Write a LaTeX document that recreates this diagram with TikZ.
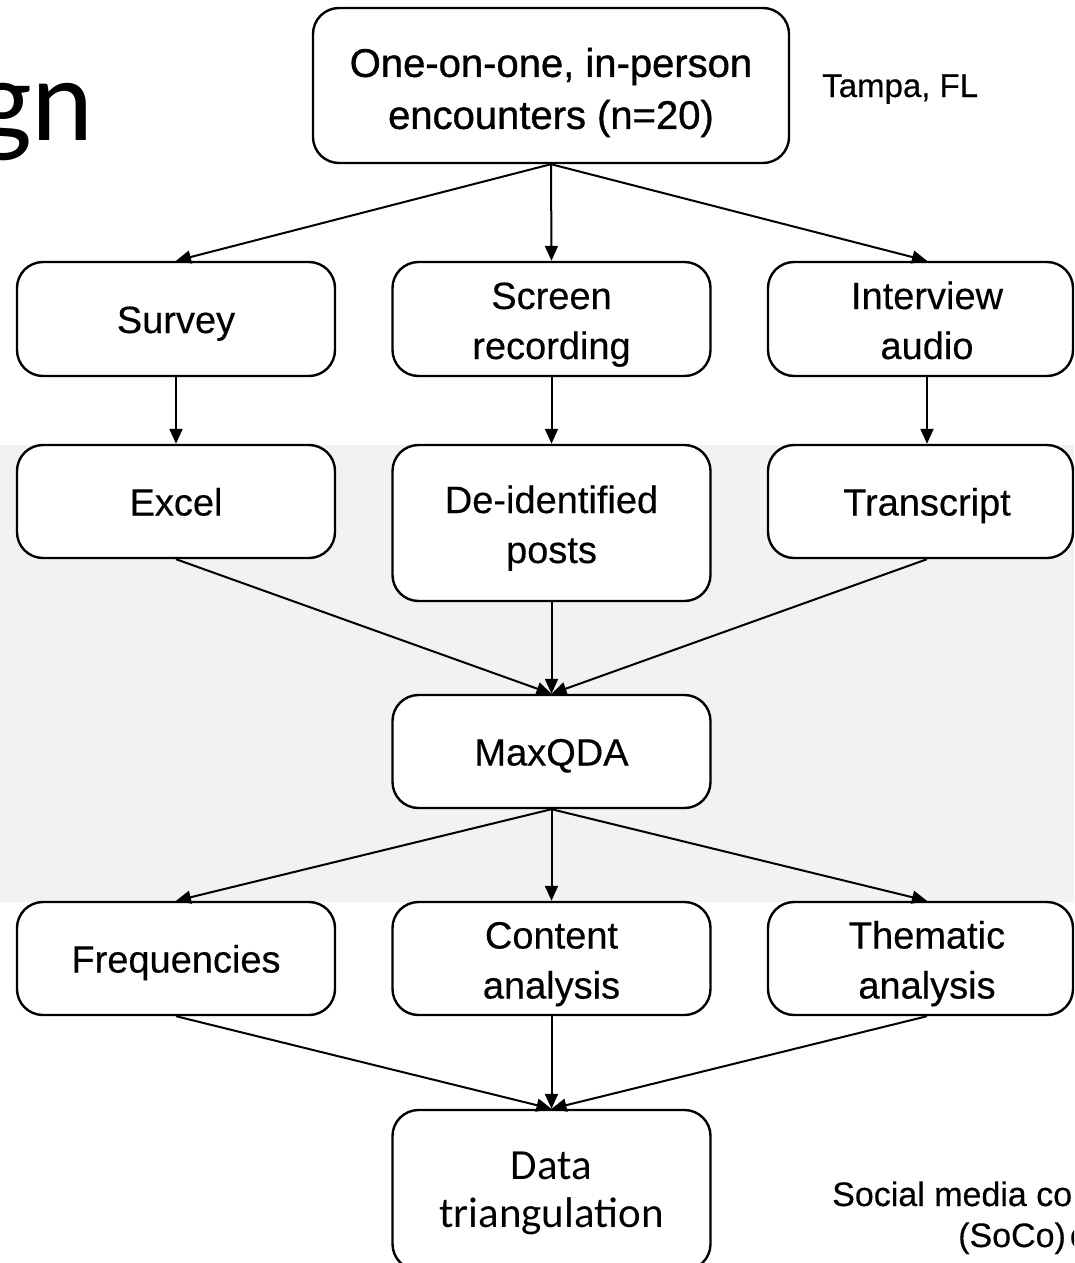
\documentclass[tikz,border=0pt]{standalone}
\usepackage{fontspec}
\setmainfont{Liberation Sans}
\newfontfamily\medfont[FakeBold=0.35]{Liberation Sans}
\newfontfamily\topfont[FakeBold=0.9]{Liberation Sans}
\newfontfamily\calfont{Carlito}
\usetikzlibrary{arrows.meta}
\definecolor{bandgray}{HTML}{F2F2F2}
\newcommand{\twolines}[3][5pt]{\raisebox{-#1}[\height][\depth]{\begin{tabular}{@{}c@{}}#2\\#3\end{tabular}}}
\tikzset{
  boxtext/.style={align=center, inner sep=0pt,
    font=\medfont\fontsize{38}{50}\selectfont,
    execute at begin node={\rule[-10pt]{0pt}{48pt}},
    execute at end node={\rule[-10pt]{0pt}{10pt}}},
  box/.style={draw=black, line width=2.4pt, rounded corners=26pt, fill=white, boxtext},
  wbox/.style={box, minimum width=318pt},
  rbox/.style={box, minimum width=305pt},
  rtext/.style={boxtext, xshift=6.5pt},
  conn/.style={line width=2pt, -{Triangle[length=15pt,width=13pt]}},
  plain/.style={inner sep=0pt, font=\medfont\fontsize{34}{42}\selectfont},
}
\begin{document}
\begin{tikzpicture}[x=1pt,y=-1pt]
\useasboundingbox (0,0) rectangle (1074,1263);
\clip (0,0) rectangle (1074,1263);
\fill[bandgray] (0,445) rectangle (1074,902);
% title fragment
\node[anchor=base east, inner sep=0pt, font=\calfont\fontsize{118}{120}\selectfont] (title) at (94,140) {gn};
% nodes
\node[box, minimum width=476pt, minimum height=155pt, font=\topfont\fontsize{40}{52}\selectfont] (top) at (551,85.5) {\twolines[7pt]{One-on-one, in-person}{encounters (n=20)}};
\node[plain, anchor=base west, font=\medfont\fontsize{33}{40}\selectfont] (tampa) at (822,97) {Tampa, FL};
\node[wbox, minimum height=114pt] (survey) at (176,319) {Survey};
\node[wbox, minimum height=114pt] (screen) at (551.5,319) {\twolines{Screen}{recording}};
\node[rbox, minimum height=114pt, label={[rtext]center:\twolines{Interview}{audio}}] (interview) at (920.5,319) {};
\node[wbox, minimum height=113pt] (excel) at (176,501.5) {Excel};
\node[wbox, minimum height=156pt] (deid) at (551.5,523) {\twolines{De-identified}{posts}};
\node[rbox, minimum height=113pt, label={[rtext]center:Transcript}] (transcript) at (920.5,501.5) {};
\node[wbox, minimum height=113pt] (maxqda) at (551.5,751.5) {MaxQDA};
\node[wbox, minimum height=113pt] (freq) at (176,958.5) {Frequencies};
\node[wbox, minimum height=113pt] (content) at (551.5,958.5) {\twolines{Content}{analysis}};
\node[rbox, minimum height=113pt, label={[rtext]center:\twolines{Thematic}{analysis}}] (thematic) at (920.5,958.5) {};
\node[wbox, minimum height=160pt, font=\calfont\fontsize{43}{48}\selectfont] (data) at (551.5,1190) {\twolines[4pt]{Data}{triangulation}};
\node[plain, anchor=base west] (soco1) at (832,1206) {Social media co};
\node[plain, anchor=base west] (soco2) at (958,1247) {(SoCo)\hspace{4pt}c};
% connectors
\draw[conn] (top.south) -- (survey.north);
\draw[conn] (top.south) -- (screen.north);
\draw[conn] (top.south) -- ([xshift=6.5pt]interview.north);
\draw[conn] (survey.south) -- (excel.north);
\draw[conn] (screen.south) -- (deid.north);
\draw[conn] ([xshift=6.5pt]interview.south) -- ([xshift=6.5pt]transcript.north);
\draw[conn] (excel.south) -- (maxqda.north);
\draw[conn] (deid.south) -- (maxqda.north);
\draw[conn] ([xshift=6.5pt]transcript.south) -- (maxqda.north);
\draw[conn] (maxqda.south) -- (freq.north);
\draw[conn] (maxqda.south) -- (content.north);
\draw[conn] (maxqda.south) -- ([xshift=6.5pt]thematic.north);
\draw[conn] (freq.south) -- (data.north);
\draw[conn] (content.south) -- (data.north);
\draw[conn] ([xshift=6.5pt]thematic.south) -- (data.north);
\end{tikzpicture}
\end{document}
